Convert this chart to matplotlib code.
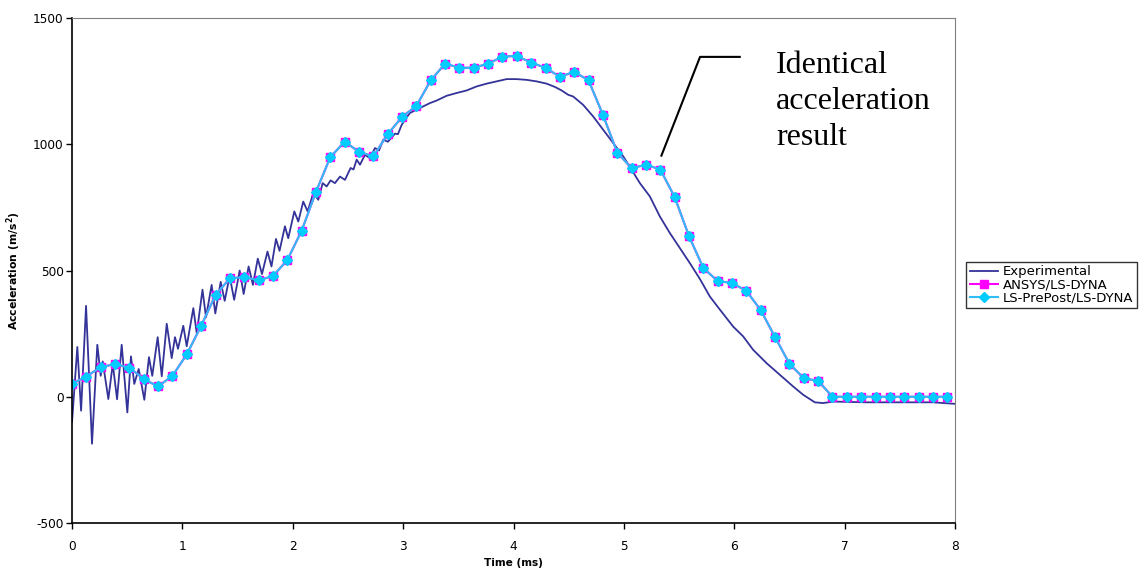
import numpy as np
import matplotlib.pyplot as plt

plt.rcParams['font.family'] = ['DejaVu Sans']
plt.rcParams['axes.unicode_minus'] = False

# experimental signal (time in ms, acceleration in m/s^2)
exp_t = [0.0, 0.048, 0.082, 0.127, 0.181, 0.229, 0.260, 0.278, 0.329, 0.369,
         0.408, 0.450, 0.501, 0.534, 0.564, 0.604, 0.655, 0.697, 0.727, 0.776,
         0.813, 0.858, 0.903, 0.933, 0.960, 1.008, 1.039, 1.099, 1.130, 1.182,
         1.214, 1.265, 1.298, 1.347, 1.383, 1.428, 1.469, 1.519, 1.555, 1.600,
         1.639, 1.683, 1.721, 1.771, 1.807, 1.848, 1.880, 1.929, 1.959, 2.014,
         2.050, 2.095, 2.135, 2.186, 2.231, 2.271, 2.307, 2.343, 2.382, 2.428,
         2.473, 2.524, 2.550, 2.579, 2.609, 2.654, 2.699, 2.745, 2.781, 2.820,
         2.862, 2.926, 2.953, 2.985, 3.016, 3.062, 3.122, 3.182, 3.243, 3.303,
         3.394, 3.485, 3.575, 3.666, 3.756, 3.847, 3.938, 4.028, 4.119, 4.209,
         4.300, 4.375, 4.436, 4.495, 4.541, 4.631, 4.722, 4.813, 4.903, 4.994,
         5.070, 5.145, 5.236, 5.326, 5.417, 5.507, 5.598, 5.688, 5.779, 5.870,
         5.990, 6.081, 6.171, 6.293, 6.413, 6.533, 6.624, 6.730, 6.805, 6.896,
         7.198, 7.500, 7.801, 8.0]
exp_a = [-100, 197, -55, 360, -186, 206, 83, 140, -9, 130,
         -10, 206, -62, 160, 51, 110, -12, 157, 83, 236,
         81, 289, 153, 236, 190, 281, 200, 351, 251, 424,
         315, 443, 330, 455, 380, 478, 384, 500, 407, 516,
         443, 547, 486, 575, 516, 625, 578, 675, 628, 734,
         694, 773, 734, 807, 780, 846, 833, 857, 846, 872,
         859, 906, 900, 939, 919, 958, 945, 985, 975, 1018,
         1010, 1042, 1040, 1075, 1097, 1124, 1137, 1150, 1163, 1173,
         1192, 1203, 1213, 1229, 1240, 1249, 1258, 1258, 1255, 1249,
         1240, 1227, 1213, 1196, 1189, 1156, 1110, 1057, 1005, 952,
         899, 846, 793, 714, 648, 589, 529, 467, 397, 345,
         278, 239, 186, 133, 87, 41, 8, -22, -25, -19,
         -22, -22, -22, -28]

# simulation output, every 0.13 ms
sim_dt = 0.13
ansys = [52, 80, 118, 129, 115, 70, 41, 83, 168, 281,
         403, 469, 474, 461, 478, 541, 657, 811, 949, 1010,
         970, 952, 1040, 1108, 1152, 1253, 1319, 1303, 1303, 1319,
         1347, 1350, 1323, 1303, 1267, 1287, 1253, 1117, 967, 905,
         919, 900, 791, 636, 510, 458, 451, 419, 343, 236,
         131, 73, 63, 0, 0, 0, 0, 0, 0, 0,
         0, 0]
prepost = list(ansys)  # identical result
sim_t = np.arange(len(ansys)) * sim_dt

fig = plt.figure(figsize=(11.47, 5.75), dpi=100)
ax = fig.add_axes([0.0628, 0.0904, 0.7698, 0.8783])

ax.plot(exp_t, exp_a, color='#333399', lw=1.3, solid_joinstyle='round', label='Experimental')
ax.plot(sim_t, ansys, color='#FF00FF', lw=1.5, marker='s', ms=6,
        mfc='#FF00FF', mec='#FF00FF', label='ANSYS/LS-DYNA')
ax.plot(sim_t, prepost, color='#33BBF5', lw=1.5, marker='D', ms=5.5,
        mfc='#00CCFF', mec='#00CCFF', label='LS-PrePost/LS-DYNA')

ax.set_xlim(0, 8)
ax.set_ylim(-500, 1500)
ax.set_xticks(range(0, 9))
ax.set_yticks([-500, 0, 500, 1000, 1500])
ax.tick_params(direction='out', length=4, width=1, labelsize=8.7, colors='black')
ax.tick_params(axis='x', pad=8)
ax.tick_params(axis='y', pad=2)
for s in ['top', 'right']:
    ax.spines[s].set_color('#808080')
for s in ['left', 'bottom']:
    ax.spines[s].set_color('black')
    ax.spines[s].set_linewidth(1.2)

ax.set_xlabel('Time (ms)', fontsize=7.6, fontweight='bold', labelpad=4)
ax.set_ylabel('Acceleration (m/s$^\\mathbf{2}$)', fontsize=7.8, fontweight='bold', labelpad=7)

# callout
ax.plot([6.05, 5.69, 5.34], [1346, 1346, 955], color='black', lw=1.5, clip_on=False)
ax.text(6.38, 1368, 'Identical\nacceleration\nresult', family='Liberation Serif',
        fontsize=23, va='top', ha='left', linespacing=1.3)

fig.legend(loc='center left', bbox_to_anchor=(966 / 1147, 1 - 285 / 575),
           fontsize=9.5, frameon=True, fancybox=False, edgecolor='black',
           borderpad=0.3, labelspacing=0.0, handlelength=2.1, handletextpad=0.4,
           borderaxespad=0)

fig.savefig('out.png', dpi=100)
